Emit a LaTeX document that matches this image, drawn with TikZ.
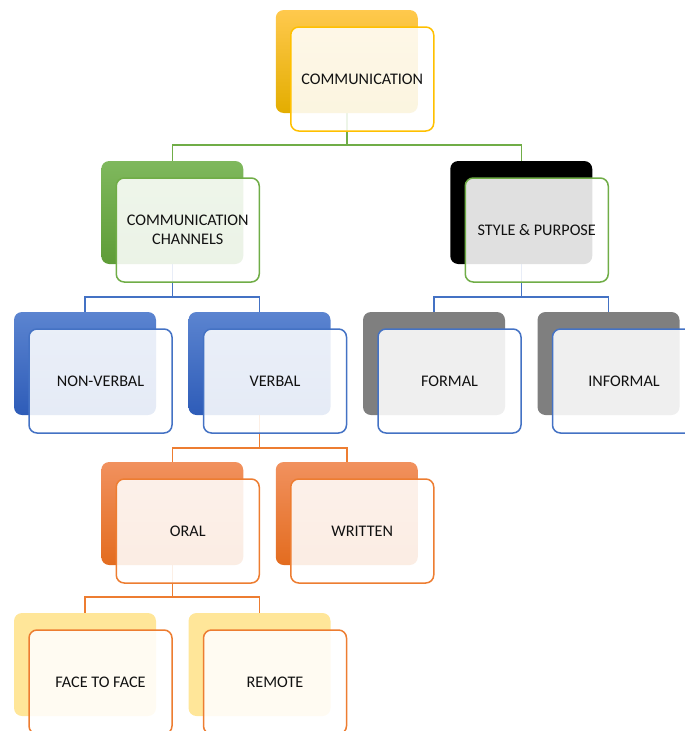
\documentclass[tikz,border=0pt]{standalone}
\usepackage{fontspec}
\setmainfont{Carlito}
\usetikzlibrary{backgrounds}

\definecolor{goldT}{HTML}{FFC94D}
\definecolor{goldB}{HTML}{E3AD00}
\definecolor{greenT}{HTML}{7FB85D}
\definecolor{greenB}{HTML}{5E9C37}
\definecolor{blueT}{HTML}{5B84D0}
\definecolor{blueB}{HTML}{2E5CB8}
\definecolor{orangeT}{HTML}{F1915E}
\definecolor{orangeB}{HTML}{E36C1F}
\definecolor{paleY}{HTML}{FFE699}
\definecolor{midGray}{HTML}{7F7F7F}
\definecolor{goldLine}{HTML}{FFC000}
\definecolor{greenLine}{HTML}{70AD47}
\definecolor{blueLine}{HTML}{4472C4}
\definecolor{orangeLine}{HTML}{ED7D31}
\definecolor{ink}{HTML}{111111}

\tikzset{
  backbox/.style={rectangle, rounded corners=8pt, minimum width=142pt,
    minimum height=103pt, inner sep=0pt, outer sep=0pt},
  frontbox/.style={rectangle, rounded corners=8pt, minimum width=143pt,
    minimum height=104pt, inner sep=0pt, outer sep=0pt, draw,
    line width=1.5pt, fill=white, fill opacity=0.88, text opacity=1,
    text=ink, align=center, font=\fontsize{16.2}{19}\selectfont},
  gold/.style={top color=goldT, bottom color=goldB},
  green/.style={top color=greenT, bottom color=greenB},
  blue/.style={top color=blueT, bottom color=blueB},
  orange/.style={top color=orangeT, bottom color=orangeB},
  pale/.style={fill=paleY},
  dark/.style={fill=black},
  grey/.style={fill=midGray},
  link/.style={line width=1.5pt},
}

% #1 name, #2 x, #3 y (centre of the back card), #4 back style,
% #5 border colour, #6 label
\newcommand{\cardpair}[6]{%
  \node[backbox, #4] (#1-b) at (#2, #3) {};
  \node[frontbox, draw=#5] (#1) at (#2+15.5, #3+17.5) {#6};
}

\begin{document}
\begin{tikzpicture}[x=1pt, y=-1pt]
  \useasboundingbox (0,0) rectangle (685,731);

  % level 0
  \cardpair{comm}{346.75}{61.5}{gold}{goldLine}{COMMUNICATION}
  % level 1
  \cardpair{chan}{172.25}{212.5}{green}{greenLine}{COMMUNICATION\\CHANNELS}
  \cardpair{style}{521.25}{212.5}{dark}{greenLine}{STYLE \& PURPOSE}
  % level 2
  \cardpair{nonverbal}{85}{363.5}{blue}{blueLine}{NON-VERBAL}
  \cardpair{verbal}{259.5}{363.5}{blue}{blueLine}{VERBAL}
  \cardpair{formal}{434}{363.5}{grey}{blueLine}{FORMAL}
  \cardpair{informal}{608.5}{363.5}{grey}{blueLine}{INFORMAL}
  % level 3
  \cardpair{oral}{172.25}{513.5}{orange}{orangeLine}{ORAL}
  \cardpair{written}{346.75}{513.5}{orange}{orangeLine}{WRITTEN}
  % level 4
  \cardpair{face}{85}{664.5}{pale}{orangeLine}{FACE TO FACE}
  \cardpair{remote}{259.5}{664.5}{pale}{orangeLine}{REMOTE}

  % elbow connectors behind the cards
  \begin{scope}[on background layer]
    \draw[link, greenLine] (comm-b.south) -- ++(0,32) -| (chan-b.north);
    \draw[link, greenLine] (comm-b.south) -- ++(0,32) -| (style-b.north);
    \draw[link, blueLine] (chan-b.south) -- ++(0,33) -| (nonverbal-b.north);
    \draw[link, blueLine] (chan-b.south) -- ++(0,33) -| (verbal-b.north);
    \draw[link, blueLine] (style-b.south) -- ++(0,33) -| (formal-b.north);
    \draw[link, blueLine] (style-b.south) -- ++(0,33) -| (informal-b.north);
    \draw[link, orangeLine] (verbal-b.south) -- ++(0,33) -| (oral-b.north);
    \draw[link, orangeLine] (verbal-b.south) -- ++(0,33) -| (written-b.north);
    \draw[link, orangeLine] (oral-b.south) -- ++(0,32) -| (face-b.north);
    \draw[link, orangeLine] (oral-b.south) -- ++(0,32) -| (remote-b.north);
  \end{scope}
\end{tikzpicture}
\end{document}
